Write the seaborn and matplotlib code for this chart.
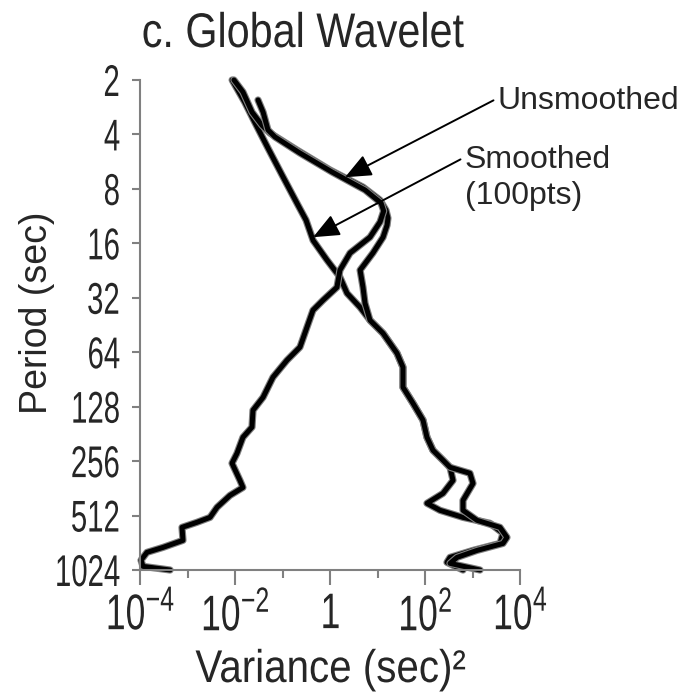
import matplotlib
matplotlib.use("Agg")
import matplotlib.pyplot as plt
import matplotlib.ticker as mticker
import matplotlib.patheffects as pe
from matplotlib.transforms import Affine2D
import seaborn as sns

# ---------------- data ----------------
smooth_period = [2.0, 2.65, 3.42, 4.76, 6.71, 9.84, 11.9, 15.4, 19.8, 24.6, 30.2, 36.1,
                 42.6, 50.3, 64.8, 77.5, 100, 122.6, 152, 189, 223, 253, 277,
                 327, 386, 438, 479, 524, 565, 642, 730, 798, 872, 929, 1024]
smooth_var = [0.0087, 0.016, 0.026, 0.0495, 0.098, 0.212, 0.313, 0.44, 0.865, 1.62, 2.28, 4.29,
              6.95, 13.1, 25.7, 34.4, 34.4, 55.9, 90.8, 110, 147, 239, 336,
              389, 239, 110, 207, 631, 2335, 4385, 3790, 1023, 336, 290, 631]

unsmooth_period = [2.0, 2.33, 3.01, 3.56, 3.93, 4.88, 6.29, 7.82, 9.23, 10.5, 11.6, 12.7,
                   14.8, 18.1, 22.5, 28.0, 34.3, 42.6, 50.3, 64.8, 77.5, 100, 122.6,
                   152, 189, 223, 253, 277, 299, 340, 422, 479, 544, 595, 676, 730,
                   798, 872, 941, 1024]
unsmooth_var = [0.0095, 0.0147, 0.0228, 0.037, 0.0546, 0.202, 1.0, 4.95, 11.3, 15.1, 16.6, 15.9,
                13.1, 8.0, 4.3, 4.95, 5.46, 6.95, 13.1, 25.7, 34.4, 34.4, 55.9,
                90.8, 110, 147, 239, 336, 885, 1025, 631, 631, 1245, 3790, 5320, 4385,
                1245, 472, 336, 1440]

resid_period = [2.58, 3.01, 3.78, 4.13, 5.07, 6.45, 8.11, 9.58, 10.6, 12.2, 14.8, 18.1,
                22.5, 28.0, 33.0, 37.5, 46.5, 60.0, 70.9, 88.0, 113.6, 134, 166, 189,
                232, 263, 327, 358, 396, 461, 524, 558, 595, 702, 768, 818, 904, 978, 1024]
resid_var = [0.0305, 0.039, 0.0495, 0.0695, 0.233, 1.1, 5.46, 11.9, 13.5, 11.3, 6.95, 2.64,
             1.62, 1.4, 0.713, 0.438, 0.328, 0.233, 0.124, 0.063, 0.039, 0.0239, 0.0228, 0.0147,
             0.011, 0.00865, 0.0127, 0.0147, 0.00785, 0.00418, 0.00298, 0.00158, 0.000766,
             0.000803, 0.000305, 0.00014, 0.000105, 0.000116, 0.00043]

period_ticks = [2, 4, 8, 16, 32, 64, 128, 256, 512, 1024]
period_labels = ["2", "4", "8", "16", "32", "64", "128", "256", "512", "1024"]
var_major = [1e-4, 1e-2, 1, 1e2, 1e4]
var_labels = [r"$10^{-4}$", r"$10^{-2}$", r"$1$", r"$10^{2}$", r"$10^{4}$"]
var_minor = [1e-3, 1e-1, 1e1, 1e3]

title_text = "c. Global Wavelet"
xlabel_text = "Variance (sec)\u00b2"
ylabel_text = "Period (sec)"
unsmooth_text = "Unsmoothed"
smooth_text = "Smoothed"
smooth_text2 = "(100pts)"


# ------------- condensed-looking text (horizontal squash at draw time) -------------
class Squash(pe.AbstractPathEffect):
    def __init__(self, sx, anchor="center"):
        super().__init__()
        self.sx = sx
        self.anchor = anchor

    def draw_path(self, renderer, gc, tpath, affine, rgbFace=None):
        ext = tpath.get_extents()
        cx = {"left": ext.x0, "center": 0.5 * (ext.x0 + ext.x1), "right": ext.x1}[self.anchor]
        pre = Affine2D().translate(-cx, 0).scale(self.sx, 1.0).translate(cx, 0)
        renderer.draw_path(gc, tpath, pre + affine, rgbFace)


# ---------------- style ----------------
REG = "Liberation Sans"
sns.set_style("ticks")
plt.rcParams["font.family"] = [REG, "DejaVu Sans"]
plt.rcParams["mathtext.fontset"] = "custom"
plt.rcParams["mathtext.rm"] = REG
plt.rcParams["mathtext.it"] = REG + ":italic"
plt.rcParams["mathtext.bf"] = REG + ":bold"
plt.rcParams["mathtext.sf"] = REG

GRAY = "#808080"

fig = plt.figure(figsize=(6.85, 6.95), dpi=100)
ax = fig.add_axes([140 / 685, 1 - 570 / 695, 380 / 685, 490 / 695])
ax.set_xscale("log")
ax.set_yscale("log", base=2)

halo = [pe.Stroke(linewidth=5.2, foreground=GRAY), pe.Normal()]
for per, var in [(smooth_period, smooth_var), (unsmooth_period, unsmooth_var),
                 (resid_period, resid_var)]:
    sns.lineplot(x=var, y=per, sort=False, estimator=None, color="black",
                 lw=3.6, ax=ax, legend=False, clip_on=False, path_effects=halo)

ax.set_xlim(1e-4, 1e4)
ax.set_ylim(1024, 2)
ax.set_yticks(period_ticks)
ax.set_yticklabels(period_labels)
ax.yaxis.set_minor_locator(mticker.NullLocator())
ax.set_xticks(var_major)
ax.set_xticklabels(var_labels)
ax.set_xticks(var_minor, minor=True)
ax.xaxis.set_minor_formatter(mticker.NullFormatter())
ax.set_xlabel("")
ax.set_ylabel("")

for s in ["top", "right"]:
    ax.spines[s].set_visible(False)
for s in ["left", "bottom"]:
    ax.spines[s].set_color(GRAY)
    ax.spines[s].set_linewidth(1.5)

ax.tick_params(axis="x", which="major", length=11, width=1.5, color=GRAY, pad=5,
               labelsize=36)
ax.tick_params(axis="x", which="minor", length=6, width=1.5, color=GRAY)
ax.tick_params(axis="y", which="major", length=6, width=1.5, color=GRAY, pad=8,
               labelsize=32)

for lab in ax.get_xticklabels():
    lab.set_path_effects([Squash(0.71, "center")])
for lab in ax.get_yticklabels():
    lab.set_path_effects([Squash(0.66, "right")])

fig.text(303 / 685, 1 - 47 / 695, title_text, ha="center", va="baseline",
         fontsize=35, path_effects=[Squash(0.85, "center")])
fig.text(331 / 685, 1 - 682 / 695, xlabel_text, ha="center", va="baseline",
         fontsize=33, path_effects=[Squash(0.88, "center")])
fig.text(37 / 685, 1 - 313 / 695, ylabel_text, ha="center", va="center",
         rotation=90, fontsize=27)

arrow = dict(arrowstyle="-|>,head_length=0.7,head_width=0.3", color="black",
             lw=1.4, shrinkA=1, shrinkB=0, relpos=(0, 0.6))
ax.annotate(unsmooth_text, xy=(2.07, 6.9), xycoords="data",
            xytext=(498, 695 - 101), textcoords="figure pixels",
            ha="left", va="center", fontsize=23, arrowprops=arrow,
            annotation_clip=False)
ax.annotate(smooth_text, xy=(0.44, 14.8), xycoords="data",
            xytext=(465, 695 - 160), textcoords="figure pixels",
            ha="left", va="center", fontsize=23, arrowprops=arrow,
            annotation_clip=False)
fig.text(465 / 685, 1 - 196 / 695, smooth_text2, ha="left", va="center",
         fontsize=23)

fig.savefig("out.png", dpi=100)
